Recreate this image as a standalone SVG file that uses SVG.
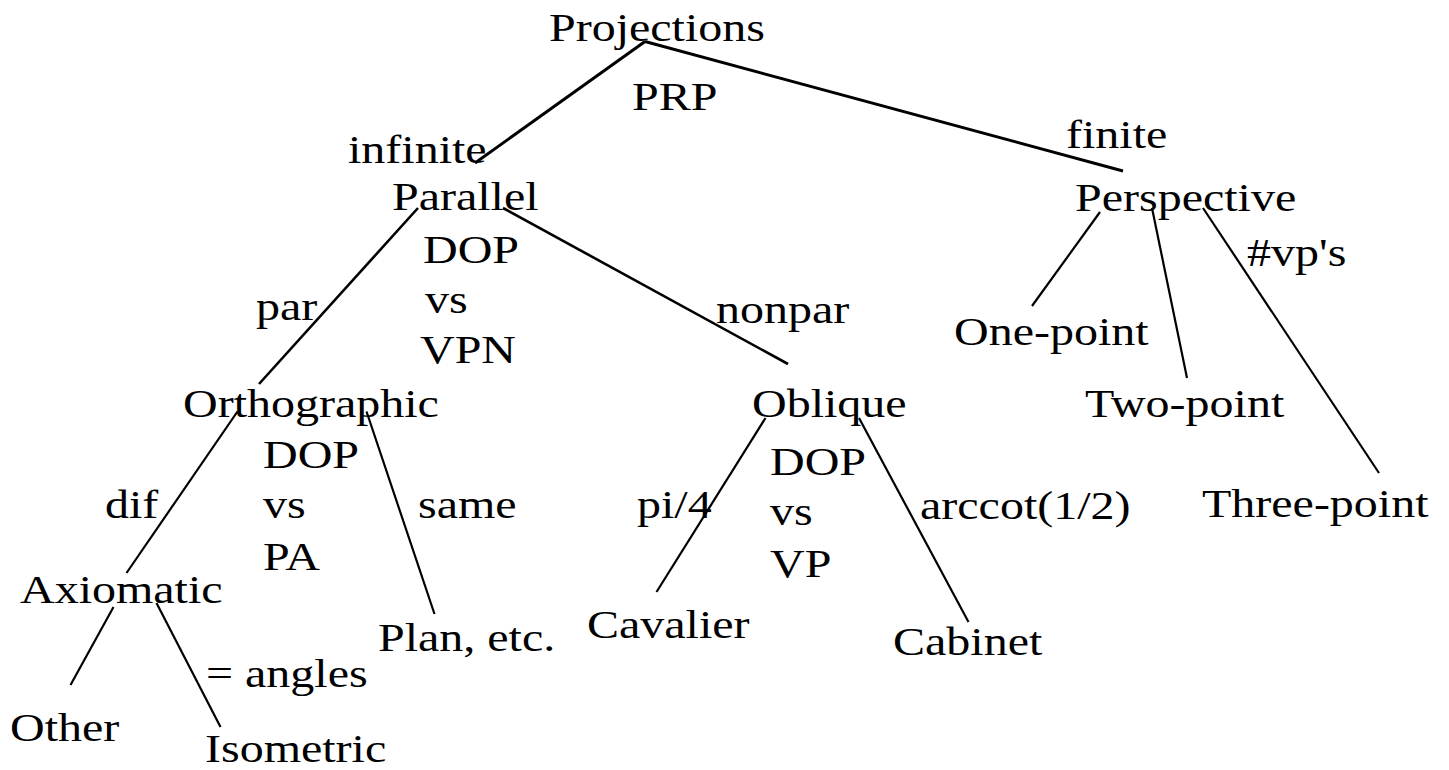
<svg xmlns="http://www.w3.org/2000/svg" width="1449" height="770" viewBox="0 0 1449 770">
  <style>
    text { font-family: "Liberation Serif", "Times New Roman", serif; font-size: 40px; fill: #000; }
    .edge { stroke: #000; fill: none; stroke-linecap: butt; }
    .w1 { stroke-width: 3; }
    .w2 { stroke-width: 2.6; }
    .w3 { stroke-width: 2.2; }
  </style>
  <rect width="1449" height="770" fill="#fff"/>

  <!-- tree edges -->
  <g id="connectors">
    <line class="edge w1" x1="645" y1="41.5" x2="475" y2="163"/>
    <line class="edge w1" x1="645" y1="41.5" x2="1123" y2="171"/>
    <line class="edge w2" x1="418" y1="208" x2="259" y2="384"/>
    <line class="edge w2" x1="503" y1="208" x2="788" y2="364"/>
    <line class="edge w3" x1="1100" y1="212" x2="1032" y2="306"/>
    <line class="edge w3" x1="1152" y1="208" x2="1187" y2="378"/>
    <line class="edge w3" x1="1203" y1="208" x2="1379" y2="473"/>
    <line class="edge w3" x1="237.5" y1="411.5" x2="126.5" y2="573"/>
    <line class="edge w3" x1="366.5" y1="411.5" x2="434.5" y2="614"/>
    <line class="edge w3" x1="113.5" y1="607" x2="70.5" y2="685"/>
    <line class="edge w3" x1="156.5" y1="603" x2="220.5" y2="727"/>
    <line class="edge w3" x1="765.5" y1="418" x2="656.5" y2="592"/>
    <line class="edge w3" x1="859" y1="418" x2="968.5" y2="622"/>
  </g>

  <!-- nodes -->
  <g id="projections"><text transform="translate(549 41) scale(1.2 1)">Projections</text></g>
  <g id="parallel"><text transform="translate(392 210) scale(1.2 1)">Parallel</text></g>
  <g id="perspective"><text transform="translate(1075 211) scale(1.2 1)">Perspective</text></g>
  <g id="orthographic"><text transform="translate(183 417) scale(1.2 1)">Orthographic</text></g>
  <g id="oblique"><text transform="translate(752 417) scale(1.2 1)">Oblique</text></g>
  <g id="one-point"><text transform="translate(954 345) scale(1.2 1)">One-point</text></g>
  <g id="two-point"><text transform="translate(1085 417) scale(1.2 1)">Two-point</text></g>
  <g id="three-point"><text transform="translate(1202 517) scale(1.2 1)">Three-point</text></g>
  <g id="axiomatic"><text transform="translate(20 603) scale(1.2 1)">Axiomatic</text></g>
  <g id="plan"><text transform="translate(378 651) scale(1.2 1)">Plan, etc.</text></g>
  <g id="cavalier"><text transform="translate(587 638) scale(1.2 1)">Cavalier</text></g>
  <g id="cabinet"><text transform="translate(893 655) scale(1.2 1)">Cabinet</text></g>
  <g id="other"><text transform="translate(10 741) scale(1.2 1)">Other</text></g>
  <g id="isometric"><text transform="translate(205 762) scale(1.2 1)">Isometric</text></g>

  <!-- edge labels -->
  <g id="label-prp"><text transform="translate(632 110) scale(1.2 1)">PRP</text></g>
  <g id="label-infinite"><text transform="translate(348 163) scale(1.2 1)">infinite</text></g>
  <g id="label-finite"><text transform="translate(1066 148) scale(1.2 1)">finite</text></g>
  <g id="label-vps"><text transform="translate(1247 266) scale(1.2 1)">#vp's</text></g>
  <g id="label-dop-vpn">
    <text transform="translate(423 263) scale(1.2 1)">DOP</text>
    <text transform="translate(425 313) scale(1.2 1)">vs</text>
    <text transform="translate(420 363) scale(1.2 1)">VPN</text>
  </g>
  <g id="label-par"><text transform="translate(256 320) scale(1.2 1)">par</text></g>
  <g id="label-nonpar"><text transform="translate(716 323) scale(1.2 1)">nonpar</text></g>
  <g id="label-dop-pa">
    <text transform="translate(263 468) scale(1.2 1)">DOP</text>
    <text transform="translate(263 518) scale(1.2 1)">vs</text>
    <text transform="translate(263 570) scale(1.2 1)">PA</text>
  </g>
  <g id="label-dif"><text transform="translate(105 518) scale(1.2 1)">dif</text></g>
  <g id="label-same"><text transform="translate(418 518) scale(1.2 1)">same</text></g>
  <g id="label-equal-angles"><text transform="translate(206 687) scale(1.2 1)">= angles</text></g>
  <g id="label-dop-vp">
    <text transform="translate(770 475) scale(1.2 1)">DOP</text>
    <text transform="translate(770 525) scale(1.2 1)">vs</text>
    <text transform="translate(770 577) scale(1.2 1)">VP</text>
  </g>
  <g id="label-pi4"><text transform="translate(637 518) scale(1.2 1)">pi/4</text></g>
  <g id="label-arccot"><text transform="translate(920 519) scale(1.2 1)">arccot(1/2)</text></g>
</svg>
